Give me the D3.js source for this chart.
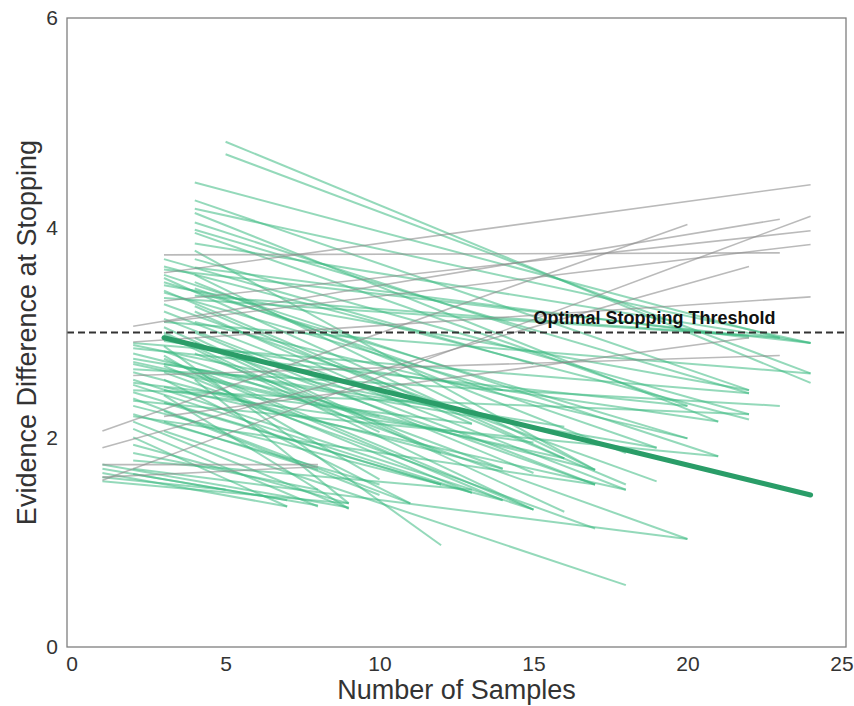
<!DOCTYPE html>
<html>
<head>
<meta charset="utf-8">
<script src="https://cdn.jsdelivr.net/npm/d3@7"></script>
<style>
  body { margin: 0; background: #fff; }
  text { font-family: Arial, "Liberation Sans", sans-serif; }
</style>
</head>
<body>
<div id="chart"></div>
<script>
var width = 854
var height = 706

// runs whose evidence fell over time: [startSample, startEvidence, endSample, endEvidence]
var fallingRuns = [
  [5, 4.82, 24, 2.52], [5, 4.70, 24, 2.61],
  [4, 4.43, 23, 2.95], [4, 4.26, 22, 2.45], [4, 4.18, 24, 2.90], [4, 4.14, 21, 2.15],
  [4, 4.05, 15, 3.00], [4, 3.98, 22, 2.42], [4, 3.95, 20, 2.30], [4, 3.85, 24, 2.90],
  [4, 3.78, 17, 1.69], [4, 3.70, 22, 2.22], [4, 3.62, 22, 2.95], [4, 3.55, 17, 1.69],
  [4, 3.48, 18, 1.85], [4, 3.42, 19, 1.90], [4, 3.35, 23, 2.95], [4, 3.25, 13, 2.13],
  [4, 3.20, 11, 2.30], [4, 3.10, 20, 1.99], [4, 3.00, 15, 1.66], [4, 2.95, 12, 1.85],
  [4, 2.90, 17, 1.55], [4, 2.80, 14, 1.70], [4, 2.65, 15, 1.31], [4, 2.55, 9, 1.37],
  [3, 3.70, 15, 2.70], [3, 3.63, 22, 2.17], [3, 3.60, 24, 2.90], [3, 3.55, 21, 1.82],
  [3, 3.52, 16, 1.80], [3, 3.48, 20, 1.99], [3, 3.45, 22, 2.45], [3, 3.40, 18, 1.55],
  [3, 3.38, 14, 2.45], [3, 3.33, 22, 2.97], [3, 3.27, 19, 1.58], [3, 3.20, 18, 1.50],
  [3, 3.13, 17, 1.55], [3, 3.10, 24, 2.61], [3, 3.05, 16, 1.29], [3, 3.00, 10, 2.05],
  [3, 2.98, 15, 1.31], [3, 2.92, 21, 2.15], [3, 2.87, 12, 0.97], [3, 2.82, 20, 1.03],
  [3, 2.78, 10, 1.60], [3, 2.75, 14, 1.40], [3, 2.70, 16, 2.10], [3, 2.68, 13, 1.47],
  [3, 2.62, 17, 1.13], [3, 2.55, 11, 1.37], [3, 2.48, 18, 1.50], [3, 2.45, 15, 1.95],
  [3, 2.40, 9, 1.32], [3, 2.33, 12, 1.55], [3, 2.25, 10, 1.45], [3, 2.15, 8, 1.69],
  [3, 2.06, 18, 0.59],
  [2, 2.90, 22, 2.42], [2, 2.88, 15, 2.10], [2, 2.85, 20, 2.30], [2, 2.80, 17, 1.69],
  [2, 2.75, 19, 1.90], [2, 2.72, 10, 2.20], [2, 2.70, 16, 1.80], [2, 2.65, 23, 2.30],
  [2, 2.62, 14, 1.70], [2, 2.55, 15, 1.31], [2, 2.52, 13, 2.13], [2, 2.50, 13, 1.47],
  [2, 2.45, 22, 2.22], [2, 2.43, 12, 1.55], [2, 2.37, 11, 1.37], [2, 2.35, 21, 1.82],
  [2, 2.30, 14, 1.40], [2, 2.22, 10, 1.55], [2, 2.20, 17, 1.55], [2, 2.15, 9, 1.32],
  [2, 2.08, 8, 1.34], [2, 2.00, 7, 1.34], [2, 1.93, 9, 1.37], [2, 1.85, 8, 1.50],
  [2, 1.78, 13, 1.50], [2, 1.70, 20, 1.03], [2, 1.65, 7, 1.40],
  [1, 1.74, 9, 1.33], [1, 1.70, 8, 1.35], [1, 1.66, 7, 1.34], [1, 1.62, 5, 1.50],
  [1, 1.58, 9, 1.37]
]

// runs whose evidence rose over time
var risingRuns = [
  [3, 3.57, 24, 4.41], [3, 3.74, 23, 3.76], [1, 2.06, 20, 4.03], [1, 1.90, 22, 3.63],
  [1, 1.59, 24, 4.11], [2, 3.06, 23, 4.08], [3, 3.30, 24, 3.97], [3, 3.10, 24, 3.84],
  [2, 2.91, 24, 3.34], [2, 2.59, 23, 2.78], [1, 1.74, 8, 1.74], [1, 1.62, 8, 1.72],
  [3, 2.20, 22, 2.95]
]

// average trend
var trendX = [3, 24]
var trendY = [2.95, 1.45]

var threshold = 3
var xTicks = [0, 5, 10, 15, 20, 25]
var yTicks = [0, 2, 4, 6]

var svg = d3.select("#chart")
  .append("svg")
    .attr("width", width)
    .attr("height", height)

var x = d3.scaleLinear()
  .domain([-0.15, 25.15])
  .range([67, 846])

var y = d3.scaleLinear()
  .domain([0, 6])
  .range([647, 18])

var clip = svg.append("defs").append("clipPath").attr("id", "plot")
clip.append("rect")
  .attr("x", 67).attr("y", 18)
  .attr("width", 846 - 67).attr("height", 647 - 18)

var plot = svg.append("g").attr("clip-path", "url(#plot)")

plot.selectAll(".fall")
  .data(fallingRuns)
  .enter()
  .append("line")
    .attr("class", "fall")
    .attr("x1", function(d) { return x(d[0]) })
    .attr("y1", function(d) { return y(d[1]) })
    .attr("x2", function(d) { return x(d[2]) })
    .attr("y2", function(d) { return y(d[3]) })
    .attr("stroke", "#3dba82")
    .attr("stroke-opacity", 0.55)
    .attr("stroke-width", 2)

plot.selectAll(".rise")
  .data(risingRuns)
  .enter()
  .append("line")
    .attr("class", "rise")
    .attr("x1", function(d) { return x(d[0]) })
    .attr("y1", function(d) { return y(d[1]) })
    .attr("x2", function(d) { return x(d[2]) })
    .attr("y2", function(d) { return y(d[3]) })
    .attr("stroke", "#8c8c8c")
    .attr("stroke-opacity", 0.6)
    .attr("stroke-width", 1.6)

var trend = d3.line()
  .x(function(d) { return x(d[0]) })
  .y(function(d) { return y(d[1]) })

plot.append("path")
  .datum(d3.zip(trendX, trendY))
  .attr("d", trend)
  .attr("fill", "none")
  .attr("stroke", "#2a9d68")
  .attr("stroke-width", 5)
  .attr("stroke-linecap", "round")

plot.append("line")
  .attr("x1", 67).attr("x2", 846)
  .attr("y1", y(threshold)).attr("y2", y(threshold))
  .attr("stroke", "#333")
  .attr("stroke-width", 1.8)
  .attr("stroke-dasharray", "7,4")

svg.append("text")
  .attr("x", x(15))
  .attr("y", y(threshold) - 9)
  .attr("font-size", 18)
  .attr("font-weight", "bold")
  .attr("fill", "#111")
  .text("Optimal Stopping Threshold")

// frame
svg.append("rect")
  .attr("x", 67).attr("y", 18)
  .attr("width", 846 - 67).attr("height", 647 - 18)
  .attr("fill", "none")
  .attr("stroke", "#7f7f7f")
  .attr("stroke-width", 1.3)

var xAxis = svg.append("g")
  .attr("transform", "translate(0,647)")
  .call(d3.axisBottom(x).tickValues(xTicks).tickFormat(d3.format("d")).tickSize(0).tickPadding(9))
xAxis.select(".domain").remove()
xAxis.selectAll("text")
  .attr("font-size", 21)
  .attr("font-family", "Arial, 'Liberation Sans', sans-serif")
  .attr("fill", "#333")

var yAxis = svg.append("g")
  .attr("transform", "translate(67,0)")
  .call(d3.axisLeft(y).tickValues(yTicks).tickFormat(d3.format("d")).tickSize(0).tickPadding(9))
yAxis.select(".domain").remove()
yAxis.selectAll("text")
  .attr("font-size", 21)
  .attr("font-family", "Arial, 'Liberation Sans', sans-serif")
  .attr("fill", "#333")

svg.append("text")
  .attr("x", (67 + 846) / 2)
  .attr("y", 699)
  .attr("text-anchor", "middle")
  .attr("font-size", 27)
  .attr("fill", "#333")
  .text("Number of Samples")

svg.append("text")
  .attr("transform", "translate(36," + (18 + 647) / 2 + ") rotate(-90)")
  .attr("text-anchor", "middle")
  .attr("font-size", 27)
  .attr("fill", "#333")
  .text("Evidence Difference at Stopping")
</script>
</body>
</html>
